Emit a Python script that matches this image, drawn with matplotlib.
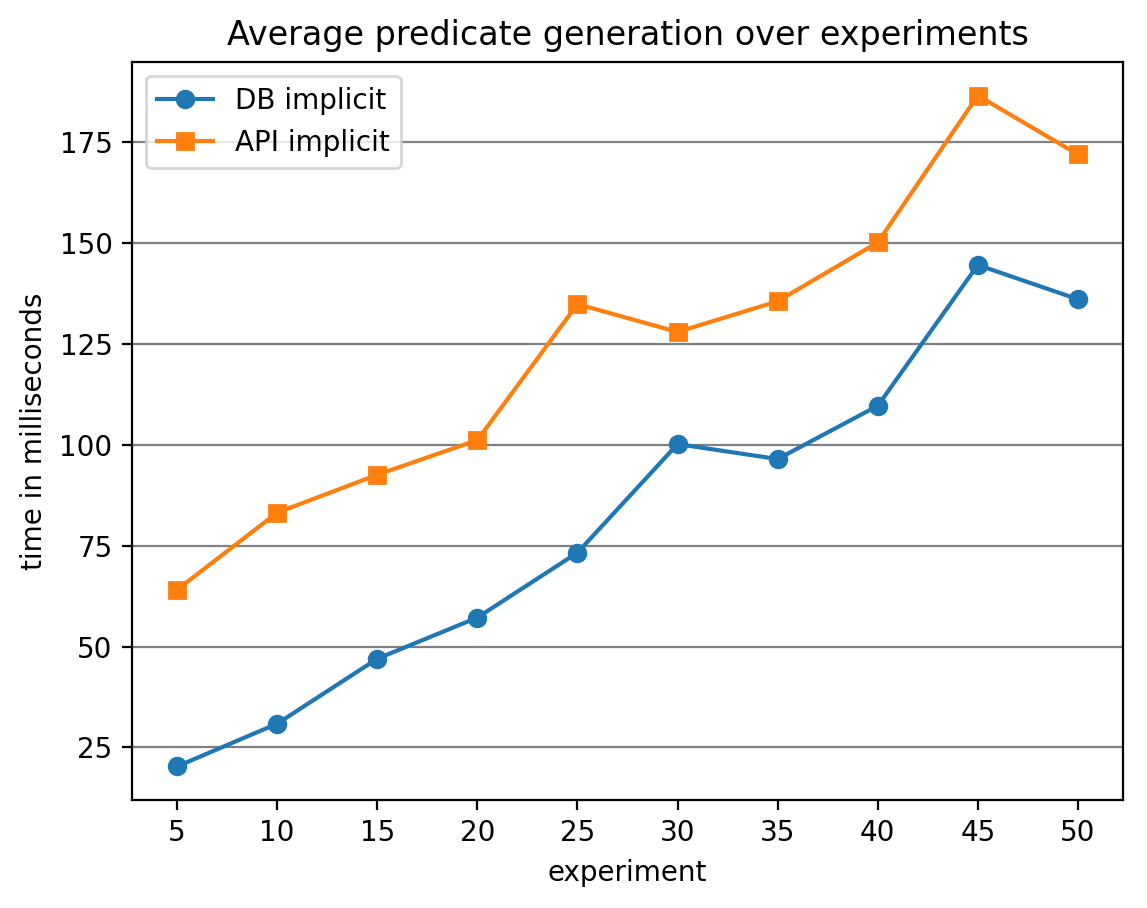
import matplotlib
matplotlib.use("Agg")
import matplotlib.pyplot as plt

experiments = [5, 10, 15, 20, 25, 30, 35, 40, 45, 50]
db_implicit = [20.3, 30.9, 47.0, 57.2, 73.3, 100.2, 96.5, 109.7, 144.6, 136.1]
api_implicit = [64.1, 83.2, 92.6, 101.2, 134.9, 128.0, 135.6, 150.2, 186.6, 172.0]

fig = plt.figure(figsize=(1147/200, 908/200), dpi=200)
ax = fig.add_axes([132/1147, 1-800/908, (1123-132)/1147, (800-62)/908])
ax.plot(experiments, db_implicit, marker='o', label='DB implicit')
ax.plot(experiments, api_implicit, marker='s', label='API implicit')
ax.set_xticks(experiments)
ax.yaxis.grid(True, color='grey')
ax.set_axisbelow(True)
ax.set_title('Average predicate generation over experiments')
ax.set_xlabel('experiment')
ax.set_ylabel('time in milliseconds')
ax.legend(loc='upper left')
fig.savefig('out.png', dpi=200)
